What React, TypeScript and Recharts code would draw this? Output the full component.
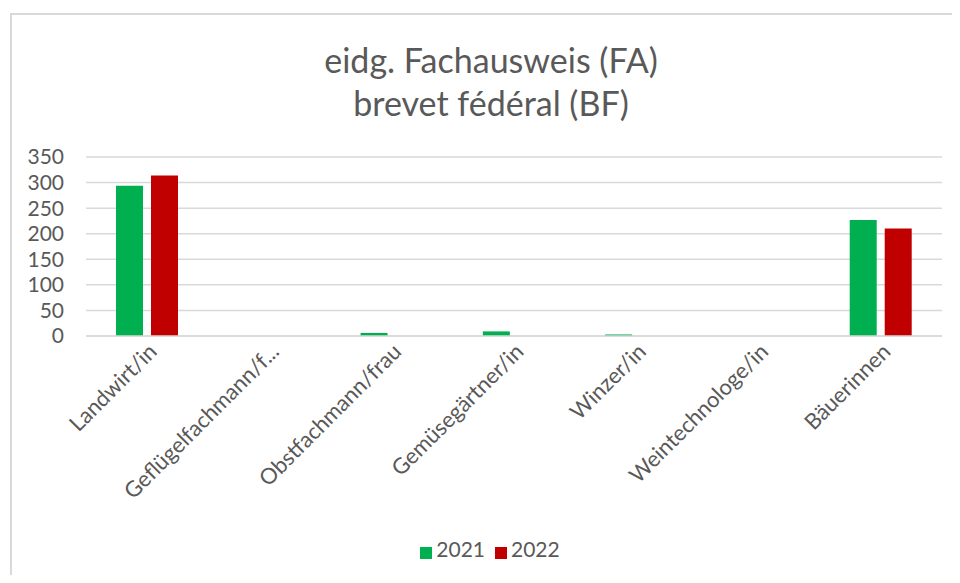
import React from 'react';
import { BarChart, Bar, XAxis, YAxis, CartesianGrid, Legend } from 'recharts';

const categories = [
  'Landwirt/in',
  'Geflügelfachmann/f...',
  'Obstfachmann/frau',
  'Gemüsegärtner/in',
  'Winzer/in',
  'Weintechnologe/in',
  'Bäuerinnen',
];
const values2021 = [294, 0, 6, 9, 3, 0, 227];
const values2022 = [314, 0, 0, 0, 0, 0, 210];
const yTicks = [0, 50, 100, 150, 200, 250, 300, 350];

const data = categories.map((name, i) => ({
  name,
  y2021: values2021[i],
  y2022: values2022[i],
}));

const FONT = 'Lato, "Open Sans", sans-serif';
const TEXT = '#595959';
const GRID = '#d9d9d9';

export default function App() {
  return (
    <div
      style={{
        position: 'relative',
        width: 960,
        height: 583,
        margin: -8,
        overflow: 'hidden',
        background: '#fff',
        fontFamily: FONT,
      }}
    >
      {/* chart frame: only top and left edges are visible */}
      <div style={{ position: 'absolute', left: 10, top: 13, width: 950, height: 2, background: GRID }} />
      <div style={{ position: 'absolute', left: 10, top: 13, width: 2, height: 570, background: GRID }} />
      <div
        style={{
          position: 'absolute',
          left: 0,
          top: 38,
          width: 982,
          textAlign: 'center',
          color: TEXT,
          fontSize: 34,
          lineHeight: '43px',
        }}
      >
        eidg. Fachausweis (FA)
        <br />
        brevet fédéral (BF)
      </div>
      <div style={{ position: 'absolute', left: 0, top: 0 }}>
        <BarChart
          width={960}
          height={583}
          data={data}
          margin={{ top: 157, right: 18, left: 0, bottom: 72 }}
          barSize={27}
          barGap={8}
        >
          <CartesianGrid vertical={false} stroke={GRID} strokeWidth={1.5} />
          <XAxis
            dataKey="name"
            interval={0}
            angle={-45}
            textAnchor="end"
            height={150}
            tickLine={false}
            tickSize={0}
            tickMargin={6}
            axisLine={{ stroke: GRID, strokeWidth: 1.5 }}
            tick={{ fill: TEXT, fontSize: 22, fontFamily: FONT }}
          />
          <YAxis
            domain={[0, 350]}
            ticks={yTicks}
            interval={0}
            width={86}
            axisLine={false}
            tickLine={false}
            tickSize={0}
            tickMargin={22}
            tick={{ fill: TEXT, fontSize: 21, fontFamily: FONT }}
          />
          <Legend
            iconType="square"
            iconSize={12}
            wrapperStyle={{ top: 536, left: 0, width: 990 }}
            formatter={(value) => (
              <span style={{ color: TEXT, fontSize: 21, fontFamily: FONT }}>{value}</span>
            )}
          />
          <Bar dataKey="y2021" name="2021" fill="#00B050" isAnimationActive={false} />
          <Bar dataKey="y2022" name="2022" fill="#C00000" isAnimationActive={false} />
        </BarChart>
      </div>
    </div>
  );
}
